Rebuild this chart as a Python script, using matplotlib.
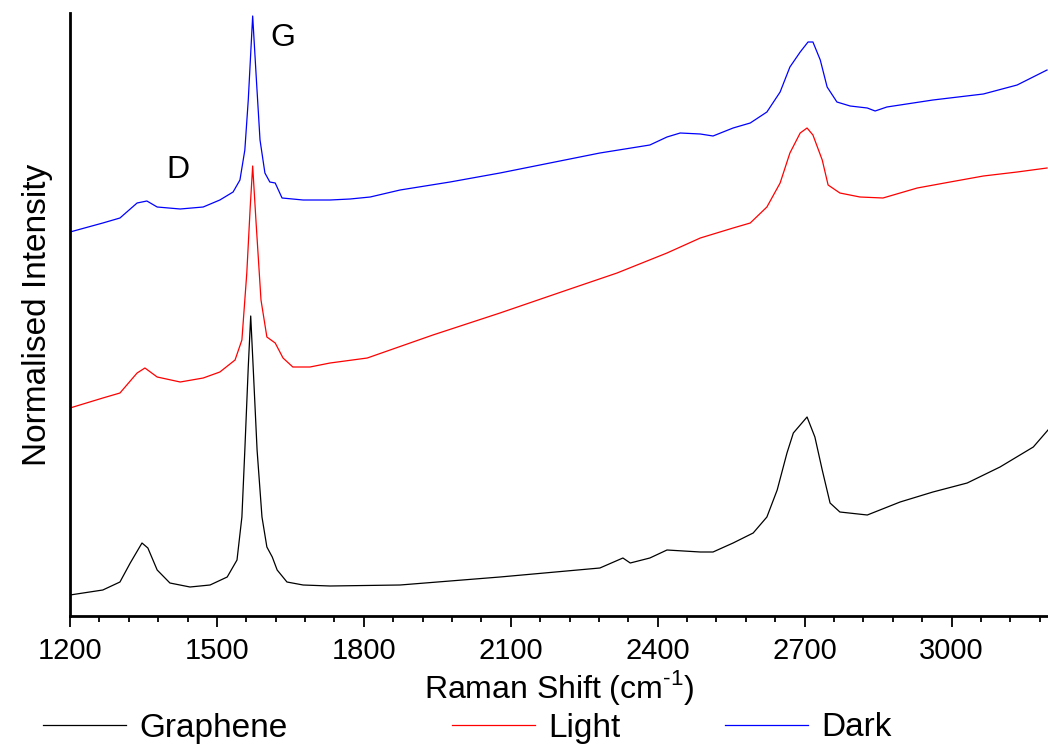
import numpy as np
import matplotlib.pyplot as plt
from matplotlib.ticker import MultipleLocator

plt.rcParams['font.family'] = ['Liberation Sans', 'DejaVu Sans']
plt.rcParams['mathtext.fontset'] = 'custom'
plt.rcParams['mathtext.rm'] = 'Liberation Sans'

# Raman spectra (cm-1, normalised intensity in arbitrary units)
graphene_x = [1200, 1267, 1302, 1323, 1347, 1359, 1378, 1404, 1445, 1486, 1521, 1541, 1551,
              1557, 1564, 1569, 1574, 1582, 1592, 1602, 1613, 1623, 1643, 1676, 1731, 1874,
              2078, 2282, 2329, 2344, 2384, 2419, 2487, 2513, 2554, 2595, 2623, 2644, 2664,
              2677, 2705, 2721, 2736, 2752, 2772, 2828, 2895, 2962, 3032, 3099, 3167, 3197]
graphene_y = [21, 26, 34, 53, 73, 68, 46, 33, 29, 31, 39, 56, 99,
              166, 249, 300, 249, 166, 99, 69, 59, 46, 34, 31, 30, 31,
              39, 48, 58, 53, 58, 66, 64, 64, 73, 83, 99, 126, 163,
              183, 199, 179, 146, 113, 104, 101, 114, 124, 133, 149, 169, 186]

light_x = [1200, 1267, 1302, 1337, 1353, 1378, 1425, 1472, 1506, 1537, 1551, 1561, 1568,
           1573, 1580, 1590, 1602, 1619, 1635, 1655, 1690, 1731, 1807, 1941, 2078, 2215,
           2317, 2419, 2487, 2554, 2589, 2623, 2650, 2670, 2691, 2705, 2717, 2736, 2748,
           2772, 2813, 2860, 2930, 2997, 3065, 3134, 3195]
light_y = [208, 218, 223, 243, 248, 239, 234, 238, 244, 256, 276, 343, 409,
           450, 393, 316, 279, 273, 258, 249, 249, 253, 258, 281, 303, 326,
           343, 363, 378, 388, 393, 409, 433, 463, 483, 488, 481, 456, 431,
           423, 419, 418, 428, 434, 440, 444, 448]

dark_x = [1200, 1267, 1302, 1337, 1357, 1378, 1425, 1472, 1506, 1533, 1547, 1557, 1564,
          1573, 1581, 1588, 1598, 1608, 1619, 1633, 1676, 1731, 1772, 1813, 1874, 1976,
          2078, 2180, 2282, 2384, 2419, 2446, 2487, 2513, 2554, 2589, 2623, 2650, 2670,
          2691, 2707, 2717, 2732, 2746, 2766, 2793, 2828, 2844, 2868, 2962, 3065, 3134, 3195]
dark_y = [384, 393, 398, 413, 415, 409, 407, 409, 416, 424, 436, 466, 516,
          600, 533, 476, 443, 434, 433, 418, 416, 416, 417, 419, 426, 434,
          443, 453, 463, 471, 479, 483, 482, 480, 488, 493, 504, 524, 549,
          564, 574, 574, 556, 529, 514, 510, 508, 505, 509, 516, 522, 531, 546]

fig = plt.figure(figsize=(10.48, 7.46), dpi=100)
ax = fig.add_axes([70 / 1048, 130 / 746, 978 / 1048, 603 / 746])

l1, = ax.plot(graphene_x, graphene_y, color='black', lw=0.9, label='Graphene')
l2, = ax.plot(light_x, light_y, color='red', lw=0.9, label='Light')
l3, = ax.plot(dark_x, dark_y, color='blue', lw=0.9, label='Dark')

ax.text(1420, 446, 'D', fontsize=23, ha='center', va='center')
ax.text(1635, 578, 'G', fontsize=23, ha='center', va='center')

ax.set_xlim(1200, 3197)
ax.set_ylim(0, 603)
ax.xaxis.set_major_locator(MultipleLocator(300))
ax.xaxis.set_minor_locator(MultipleLocator(60))
ax.set_yticks([])
ax.spines['top'].set_visible(False)
ax.spines['right'].set_visible(False)
ax.spines['bottom'].set_linewidth(2)
ax.spines['left'].set_linewidth(2)
ax.tick_params(axis='x', which='major', length=8, width=1.3, labelsize=21, pad=7)
ax.tick_params(axis='x', which='minor', length=4.5, width=1.3)

ax.set_xlabel(r'Raman Shift (cm$^{\mathrm{-1}}$)'.replace('-', '\u2010'), fontsize=23, labelpad=2)
ax.set_ylabel('Normalised Intensity', fontsize=24, labelpad=12)

# Origin style legend: three entries placed along the bottom edge
for h, xpos in [(l1, 43), (l2, 452), (l3, 725)]:
    fig.legend(handles=[h], loc='center left', bbox_to_anchor=(xpos / 1048, 18 / 746),
               frameon=False, fontsize=24, handlelength=2.5, handletextpad=0.4,
               borderpad=0, borderaxespad=0)

plt.savefig('out.png', dpi=100)
